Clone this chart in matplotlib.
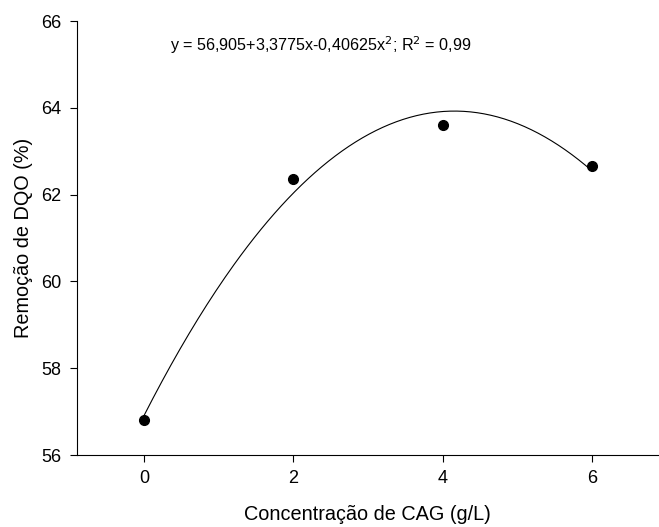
import numpy as np
import matplotlib
matplotlib.use("Agg")
import matplotlib.pyplot as plt

plt.rcParams['font.family'] = ['Liberation Sans', 'DejaVu Sans']

conc = [0, 2, 4, 6]
remocao = [56.81, 62.36, 63.60, 62.66]
coef = [56.905, 3.3775, -0.40625]
x_ticks = [0, 2, 4, 6]
y_ticks = [56, 58, 60, 62, 64, 66]

fig = plt.figure(figsize=(6.59, 5.27), dpi=100)
ax = fig.add_axes([0.1164, 0.1366, 0.8836, 0.8235])

xf = np.linspace(0, 6, 200)
yf = coef[0] + coef[1] * xf + coef[2] * xf ** 2
ax.plot(xf, yf, color='black', lw=0.8)
ax.plot(conc, remocao, 'o', color='black', ms=7)

ax.set_xlim(-0.9, 6.895)
ax.set_ylim(56, 66)
ax.set_xticks(x_ticks)
ax.set_yticks(y_ticks)
ax.tick_params(labelsize=13, length=5, width=0.8, direction='out', pad=6)
for s in ['top', 'right']:
    ax.spines[s].set_visible(False)
for s in ['left', 'bottom']:
    ax.spines[s].set_linewidth(0.8)

ax.set_xlabel('Concentração de CAG (g/L)', fontsize=14.3, labelpad=13)
ax.set_ylabel('Remoção de DQO (%)', fontsize=14.3, labelpad=6)

ax.text(0.35, 65.45, r'y = 56,905+3,3775x-0,40625x$^2$; R$^2$ = 0,99',
        fontsize=11.6, va='center', ha='left')

fig.savefig('out.png', dpi=100)
